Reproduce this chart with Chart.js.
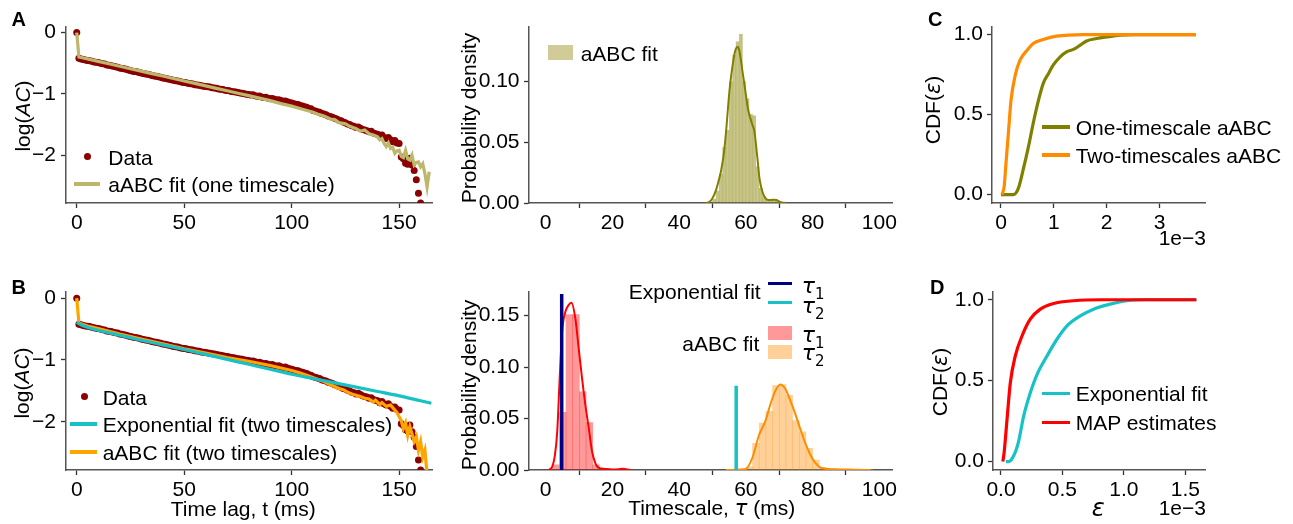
<!DOCTYPE html>
<html><head><meta charset="utf-8">
<script src="https://cdn.jsdelivr.net/npm/chart.js@4.4.1/dist/chart.umd.min.js"></script>
<style>
html,body{margin:0;padding:0;background:#fff;}
#wrap{position:relative;width:1293px;height:524px;overflow:hidden;font-family:'Liberation Sans',Arial,Helvetica,sans-serif;color:#000;}
canvas{position:absolute;}
.t{position:absolute;white-space:nowrap;font-size:21px;line-height:1;}
.m{font-family:'DejaVu Sans',sans-serif;font-style:italic;}
.mi{font-style:italic;}
.s{font-family:'DejaVu Sans',sans-serif;font-size:15px;vertical-align:-6px;}
.k{position:absolute;}
</style></head><body><div id="wrap"></div>
<script>
// ---------------- DATA ----------------
// Autocorrelation data, log(AC), one value per time lag (ms) starting at lag 0
const acData = [
 0.00,-0.42,-0.43,-0.44,-0.45,-0.455,-0.46,-0.47,-0.48,-0.485,
 -0.49,-0.50,-0.51,-0.515,-0.53,-0.535,-0.54,-0.55,-0.56,-0.565,
 -0.58,-0.585,-0.59,-0.60,-0.61,-0.62,-0.63,-0.635,-0.64,-0.65,
 -0.66,-0.67,-0.675,-0.68,-0.69,-0.70,-0.71,-0.715,-0.72,-0.73,
 -0.74,-0.745,-0.755,-0.76,-0.77,-0.78,-0.785,-0.79,-0.80,-0.81,
 -0.815,-0.82,-0.83,-0.835,-0.84,-0.85,-0.855,-0.86,-0.87,-0.875,
 -0.88,-0.885,-0.89,-0.90,-0.905,-0.91,-0.92,-0.925,-0.93,-0.94,
 -0.945,-0.95,-0.96,-0.965,-0.97,-0.98,-0.985,-0.99,-1.00,-1.005,
 -1.01,-1.02,-1.015,-1.03,-1.04,-1.035,-1.05,-1.06,-1.055,-1.07,
 -1.08,-1.075,-1.09,-1.10,-1.095,-1.11,-1.12,-1.115,-1.13,-1.14,
 -1.15,-1.16,-1.17,-1.175,-1.19,-1.20,-1.21,-1.22,-1.24,-1.245,
 -1.27,-1.28,-1.29,-1.30,-1.32,-1.33,-1.34,-1.36,-1.37,-1.38,
 -1.40,-1.41,-1.43,-1.44,-1.46,-1.47,-1.49,-1.50,-1.52,-1.53,
 -1.55,-1.54,-1.56,-1.58,-1.59,-1.60,-1.62,-1.61,-1.64,-1.65,
 -1.66,-1.69,-1.67,-1.71,-1.73,-1.71,-1.75,-1.78,-1.76,-1.80,
 -1.81,-2.03,-2.06,-2.13,-2.15,-2.05,-2.16,-2.25,-2.40,-2.62,
 -2.78
];
// aABC fit (one timescale)
const fitOneT = [0,1,5,10,15,20,25,30,35,40,45,50,55,60,65,70,75,80,85,90,95,100,105,110,112,115,118,120,122,125,127,130,132,134,136,138,140,141,142,143,144,145,146,147,148,149,150,151,152,153,154,155,156,157,158,159,160,161,162,163,164];
const fitOneY = [0,-0.40,-0.43,-0.47,-0.51,-0.55,-0.59,-0.63,-0.67,-0.71,-0.75,-0.79,-0.83,-0.87,-0.91,-0.95,-0.99,-1.03,-1.07,-1.11,-1.16,-1.20,-1.25,-1.30,-1.33,-1.36,-1.41,-1.42,-1.47,-1.49,-1.53,-1.57,-1.61,-1.59,-1.65,-1.67,-1.70,-1.75,-1.73,-1.81,-1.86,-1.80,-1.89,-1.87,-1.97,-1.93,-1.92,-2.02,-2.04,-1.92,-2.06,-2.08,-2.00,-2.16,-2.12,-2.11,-2.19,-2.14,-2.30,-2.52,-2.27];
// Exponential fit (two timescales)
const expFitT = [0,2,5,10,20,30,40,50,60,70,80,90,100,110,120,130,140,150,160,165];
const expFitY = [-0.39,-0.43,-0.47,-0.52,-0.60,-0.68,-0.755,-0.83,-0.91,-0.99,-1.07,-1.15,-1.23,-1.30,-1.37,-1.44,-1.51,-1.58,-1.66,-1.70];
// aABC fit (two timescales)
const fitTwoT = [0,1,5,10,20,30,40,50,60,70,80,90,100,104,108,112,115,118,120,122,124,126,128,130,132,134,136,138,139,141,142,144,146,148,149,150,151,152,153,154,155,156,157,158,159,160,161,162,163];
const fitTwoY = [0,-0.40,-0.45,-0.49,-0.58,-0.66,-0.74,-0.82,-0.89,-0.96,-1.02,-1.09,-1.17,-1.21,-1.26,-1.31,-1.35,-1.40,-1.43,-1.46,-1.48,-1.52,-1.55,-1.57,-1.59,-1.62,-1.63,-1.68,-1.65,-1.72,-1.69,-1.75,-1.73,-1.81,-1.85,-1.92,-1.98,-2.11,-2.02,-2.22,-2.08,-2.20,-2.32,-2.24,-2.46,-2.32,-2.57,-2.46,-2.85];

// Posterior of tau (one timescale)
const histOneCenters = [50.5,51.5,52.5,53.5,54.5,55.5,56.5,57.5,58.5,59.5,60.5,61.5,62.5,63.5,64.5,65.5,66.5,67.5,68.5,69.5];
const histOneDensity = [0.003,0.010,0.024,0.046,0.060,0.100,0.122,0.133,0.139,0.100,0.086,0.073,0.072,0.030,0.012,0.005,0.003,0.003,0.003,0.002];
const kdeOneX = [48,49.1,50,51.1,52,52.6,53.5,54.1,55.1,56,56.6,57,57.5,58,58.5,59,59.5,60,60.5,61,61.5,62,62.5,63,63.5,64,64.5,65,65.5,66.4,67.5,68.4,69.2,69.9,70.8,71.9];
const kdeOneY = [0,0.001,0.004,0.011,0.02,0.027,0.043,0.060,0.093,0.113,0.123,0.127,0.1288,0.126,0.118,0.108,0.099,0.089,0.0795,0.073,0.0685,0.064,0.060,0.049,0.036,0.022,0.014,0.009,0.0055,0.0027,0.0025,0.0027,0.0025,0.0014,0.0005,0];

// Posteriors of tau1 / tau2 (two timescales)
const histT1Centers = [1.1,3.1,5.1,7.1,9.1,11.1,13.1,15.1,17.1,19.1,21.1,23.1];
const histT1Density = [0.0005,0.005,0.056,0.151,0.151,0.076,0.046,0.005,0.001,0.0005,0.0005,0.0008];
const histT2Centers = [55,57,59,61,63,65,67,69,71,73,75,77,79,81,83,85,87,89,91,93,95,97];
const histT2Density = [0.0005,0.0005,0.001,0.003,0.026,0.0455,0.057,0.082,0.083,0.0725,0.048,0.037,0.021,0.0097,0.0026,0.001,0.0008,0.0005,0.0003,0.0003,0.0003,0.0003];
const kdeT1X = [1,1.97,2.7,3.46,4.15,4.94,5.93,6.8,7.72,8.9,9.9,10.9,11.9,12.9,13.9,14.9,15.8,17.8,20,22,23,24,25.5];
const kdeT1Y = [0,0.0033,0.013,0.037,0.086,0.135,0.154,0.160,0.1625,0.147,0.118,0.089,0.063,0.041,0.018,0.0065,0.0023,0.001,0.0005,0.0008,0.0012,0.0008,0];
const kdeT2X = [54,57,60,62,63.9,65.9,67.4,68.9,70.3,71.8,73.3,74.8,76.3,77.7,79.2,80.7,82.7,86.6,92.5,97.4];
const kdeT2Y = [0,0.0003,0.001,0.0124,0.0335,0.048,0.0644,0.0774,0.0832,0.079,0.0676,0.0546,0.040,0.027,0.0156,0.0075,0.002,0.0007,0.0003,0];
// Exponential-fit timescales (tau1, tau2) and the heights of their marker lines
const expTau = [4.8, 57.1];
const expTauLineTop = [0.171, 0.082];

// CDFs of error epsilon (units of 1e-3)
const cdfOneX = [0,0.233,0.33,0.42,0.52,0.61,0.71,0.80,0.90,0.99,1.12,1.24,1.37,1.50,1.62,1.81,2.0,2.25,2.51,3.69];
const cdfOneY = [0,0,0.041,0.156,0.30,0.446,0.59,0.695,0.757,0.81,0.861,0.892,0.907,0.934,0.96,0.975,0.985,0.996,1.0,1.0];
const cdfTwoX = [0.02,0.06,0.09,0.14,0.19,0.27,0.36,0.49,0.61,0.80,1.05,1.56,3.69];
const cdfTwoY = [0,0.05,0.176,0.384,0.59,0.747,0.84,0.90,0.944,0.969,0.99,1.0,1.0];
const cdfExpX = [0.04,0.062,0.10,0.143,0.184,0.238,0.293,0.374,0.455,0.537,0.645,0.753,0.889,1.024,1.187,1.59];
const cdfExpY = [0,0,0.031,0.124,0.28,0.424,0.538,0.652,0.756,0.839,0.90,0.942,0.973,0.994,1.0,1.0];
const cdfMapX = [0.015,0.025,0.049,0.076,0.116,0.171,0.238,0.32,0.428,0.59,0.81,1.59];
const cdfMapY = [0,0.052,0.259,0.487,0.652,0.776,0.88,0.942,0.977,0.994,1.0,1.0];

// Tick values and labels
const lagTicks = [0,50,100,150];
const lagTickLabels = ['0','50','100','150'];
const logAcTicks = [-2,-1,0];
const logAcTickLabels = ['\u22122','\u22121','0'];
const tauTicks = [0,20,40,60,80,100];
const tauTickLabels = ['0','20','40','60','80','100'];
const densTicksA = [0,0.05,0.10];
const densTickLabelsA = ['0.00','0.05','0.10'];
const densTicksB = [0,0.05,0.10,0.15];
const densTickLabelsB = ['0.00','0.05','0.10','0.15'];
const epsTicksC = [0,1,2,3];
const epsTickLabelsC = ['0','1','2','3'];
const epsTicksD = [0,0.5,1.0,1.5];
const epsTickLabelsD = ['0.0','0.5','1.0','1.5'];
const cdfTicks = [0,0.5,1];
const cdfTickLabels = ['0.0','0.5','1.0'];

// ---------------- RENDER ----------------
const FONT = "'Liberation Sans', Arial, Helvetica, sans-serif";
const wrap = document.getElementById('wrap');
const pts = (xs, ys) => xs.map((x, i) => ({x: x, y: ys[i]}));

function axis(min, max, ticks, labels, pad) {
  return {
    type: 'linear', min: min, max: max, offset: false,
    afterBuildTicks: s => { s.ticks = ticks.map(v => ({value: v})); },
    ticks: { autoSkip: false, maxRotation: 0, minRotation: 0, padding: pad, color: '#000',
             font: {family: FONT, size: 21}, callback: (v, i) => labels[i] },
    grid: { drawOnChartArea: false, drawTicks: true, tickLength: 5, tickWidth: 1.3, tickColor: '#333', color: '#333' },
    border: { display: true, color: '#555', width: 1.5 }
  };
}

function mk(box, area, type, datasets, xAx, yAx) {
  const c = document.createElement('canvas');
  c.width = box.w; c.height = box.h;
  c.style.left = box.x + 'px'; c.style.top = box.y + 'px';
  c.style.width = box.w + 'px'; c.style.height = box.h + 'px';
  wrap.appendChild(c);
  xAx.afterFit = s => { s.height = box.y + box.h - area.b; };
  yAx.afterFit = s => { s.width = area.l - box.x; };
  return new Chart(c, {
    type: type,
    data: { datasets: datasets },
    options: {
      responsive: false, devicePixelRatio: 1, animation: false, events: [],
      layout: { padding: { left: 0, top: area.t - box.y, right: box.x + box.w - area.r, bottom: 0 } },
      plugins: { legend: { display: false }, tooltip: { enabled: false } },
      scales: { x: xAx, y: yAx }
    }
  });
}

function lineDs(xs, ys, color, width, order, smooth) {
  return { type: 'line', data: pts(xs, ys), showLine: true, borderColor: color, backgroundColor: color,
           borderWidth: width, pointRadius: 0, fill: false, order: order,
           tension: smooth ? 0.4 : 0, cubicInterpolationMode: smooth ? 'monotone' : 'default' };
}
const dataDots = () => ({ type: 'scatter', data: acData.map((v, i) => ({x: i, y: v})), showLine: false,
  pointRadius: 3.5, pointBackgroundColor: '#8B0000', pointBorderWidth: 0, order: 5 });

const CYAN = '#17C2C6';

// Panel A - time series
mk({x:0,y:0,w:440,h:260}, {l:66,t:27,r:432,b:203}, 'scatter', [
  dataDots(),
  lineDs(fitOneT, fitOneY, '#BDB76B', 3.2, 1, false)
], axis(-5, 165.3, lagTicks, lagTickLabels, 3), axis(-2.78, 0.09, logAcTicks, logAcTickLabels, 5));

// Panel B - time series
mk({x:0,y:260,w:440,h:264}, {l:66,t:292,r:432,b:470}, 'scatter', [
  dataDots(),
  lineDs(expFitT, expFitY, CYAN, 3.2, 1, true),
  lineDs(fitTwoT, fitTwoY, '#FFA500', 3.2, 2, false)
], axis(-5, 165.3, lagTicks, lagTickLabels, 3), axis(-2.78, 0.10, logAcTicks, logAcTickLabels, 5));

// Panel A - histogram
mk({x:440,y:0,w:460,h:260}, {l:529,t:27,r:896,b:203}, 'bar', [
  { type: 'bar', data: pts(histOneCenters, histOneDensity), backgroundColor: 'rgba(189,183,107,0.7)',
    borderColor: 'rgba(128,128,0,0.45)', borderWidth: 1, grouped: false, barPercentage: 1, categoryPercentage: 1, order: 3 },
  lineDs(kdeOneX, kdeOneY, '#808000', 2, 1, true)
], axis(-5, 104, tauTicks, tauTickLabels, 3), axis(0, 0.145, densTicksA, densTickLabelsA, 4.5));

// Panel B - histogram
mk({x:440,y:260,w:460,h:264}, {l:529,t:292,r:896,b:470}, 'bar', [
  { type: 'bar', data: pts(histT1Centers, histT1Density), backgroundColor: 'rgba(255,0,0,0.4)',
    borderWidth: 0, grouped: false, barPercentage: 1, categoryPercentage: 1, order: 4 },
  { type: 'bar', data: pts(histT2Centers, histT2Density), backgroundColor: 'rgba(255,140,0,0.4)',
    borderWidth: 0, grouped: false, barPercentage: 1, categoryPercentage: 1, order: 4 },
  lineDs(kdeT1X, kdeT1Y, '#FF0000', 2, 2, true),
  lineDs(kdeT2X, kdeT2Y, '#FF8C00', 2, 2, true),
  lineDs([expTau[0], expTau[0]], [0, expTauLineTop[0]], '#000080', 3.5, 1, false),
  lineDs([expTau[1], expTau[1]], [0, expTauLineTop[1]], CYAN, 3.5, 1, false)
], axis(-5, 104, tauTicks, tauTickLabels, 3), axis(0, 0.173, densTicksB, densTickLabelsB, 4.5));

// Panel C - CDF
mk({x:900,y:0,w:393,h:260}, {l:992,t:27,r:1205,b:203}, 'scatter', [
  lineDs(cdfOneX, cdfOneY, '#808000', 3.2, 2, true),
  lineDs(cdfTwoX, cdfTwoY, '#FF8C00', 3.2, 1, true)
], axis(-0.17, 3.86, epsTicksC, epsTickLabelsC, 3), axis(-0.052, 1.047, cdfTicks, cdfTickLabels, 4));

// Panel D - CDF
mk({x:900,y:260,w:393,h:264}, {l:993,t:292,r:1205,b:470}, 'scatter', [
  lineDs(cdfExpX, cdfExpY, CYAN, 3.2, 2, true),
  lineDs(cdfMapX, cdfMapY, '#FF0000', 3.2, 1, true)
], axis(-0.065, 1.66, epsTicksD, epsTickLabelsD, 3), axis(-0.052, 1.048, cdfTicks, cdfTickLabels, 4));

// ---------------- TEXT & LEGENDS ----------------
function T(html, x, y, o) {
  o = o || {};
  const d = document.createElement('div');
  d.className = 't'; d.innerHTML = html;
  d.style.left = x + 'px'; d.style.top = y + 'px';
  if (o.size) d.style.fontSize = o.size + 'px';
  if (o.bold) d.style.fontWeight = 'bold';
  let tr = 'translate(0,-50%)';
  if (o.rot) tr = 'translate(-50%,-50%) rotate(-90deg)';
  else if (o.align === 'right') tr = 'translate(-100%,-50%)';
  else if (o.align === 'center') tr = 'translate(-50%,-50%)';
  d.style.transform = tr;
  wrap.appendChild(d);
}
function K(x, y, w, h, color, round) {
  const d = document.createElement('div');
  d.className = 'k';
  d.style.left = x + 'px'; d.style.top = y + 'px';
  d.style.width = w + 'px'; d.style.height = h + 'px';
  d.style.background = color;
  if (round) d.style.borderRadius = '50%';
  wrap.appendChild(d);
}

// panel letters
T('A', 11.5, 18.5, {bold: true, size: 20});
T('B', 11.5, 287, {bold: true, size: 20});
T('C', 928, 18.5, {bold: true, size: 20});
T('D', 930, 287, {bold: true, size: 20});

// axis titles
T('log(<span class="mi">AC</span>)', 21.7, 115.5, {rot: true});
T('log(<span class="mi">AC</span>)', 20.7, 382.5, {rot: true});
T('Probability density', 468.3, 118, {rot: true});
T('Probability density', 468.3, 385, {rot: true});
T('CDF(<span class="m">\u03b5</span>)', 933.3, 110, {rot: true});
T('CDF(<span class="m">\u03b5</span>)', 940, 381.7, {rot: true});
T('Time lag, t (ms)', 243.3, 508.3, {align: 'center'});
T('Timescale, <span class="m">\u03c4</span> (ms)', 711.7, 508.3, {align: 'center'});
T('<span class="m">\u03b5</span>', 1098.3, 508.3, {align: 'center', size: 24});
T('1e\u22123', 1206, 237.3, {align: 'right'});
T('1e\u22123', 1206, 506.7, {align: 'right'});

// legend A time series
K(83.8, 153.2, 7, 7, '#8B0000', true);
T('Data', 108.3, 156.7);
K(74, 182.4, 26, 3.2, '#BDB76B');
T('aABC fit (one timescale)', 108.3, 184);

// legend B time series
K(80.8, 392.5, 7, 7, '#8B0000', true);
T('Data', 102.7, 397);
K(70, 422.4, 26.7, 3.2, CYAN);
T('Exponential fit (two timescales)', 102.7, 424);
K(70, 450.4, 26.7, 3.2, '#FFA500');
T('aABC fit (two timescales)', 102.7, 452);

// legend A histogram
K(547.7, 45, 25, 15, 'rgba(189,183,107,0.7)');
T('aABC fit', 580.7, 52.7);

// legend B histogram
T('Exponential fit', 760.7, 290.7, {align: 'right'});
K(768, 281.6, 23.7, 3.5, '#000080');
T('<span class="m">\u03c4</span><span class="s">1</span>', 801.7, 288, {size: 22});
K(768, 300.6, 23.7, 3.5, CYAN);
T('<span class="m">\u03c4</span><span class="s">2</span>', 801.7, 308.3, {size: 22});
T('aABC fit', 759.3, 343.3, {align: 'right'});
K(768, 325.7, 23.7, 14.3, 'rgba(255,0,0,0.4)');
T('<span class="m">\u03c4</span><span class="s">1</span>', 801.7, 336.7, {size: 22});
K(768, 345, 23.7, 14.3, 'rgba(255,140,0,0.4)');
T('<span class="m">\u03c4</span><span class="s">2</span>', 801.7, 355, {size: 22});

// legend C
K(1041.7, 125, 28.3, 3.5, '#808000');
T('One-timescale aABC', 1075.7, 126.7);
K(1041.7, 153.3, 28.3, 3.5, '#FF8C00');
T('Two-timescales aABC', 1075.7, 155);

// legend D
K(1041.7, 391.6, 28.3, 3.5, CYAN);
T('Exponential fit', 1075.7, 393.3);
K(1041.7, 420.6, 28.3, 3.5, '#FF0000');
T('MAP estimates', 1075.7, 422.3);
</script></body></html>
